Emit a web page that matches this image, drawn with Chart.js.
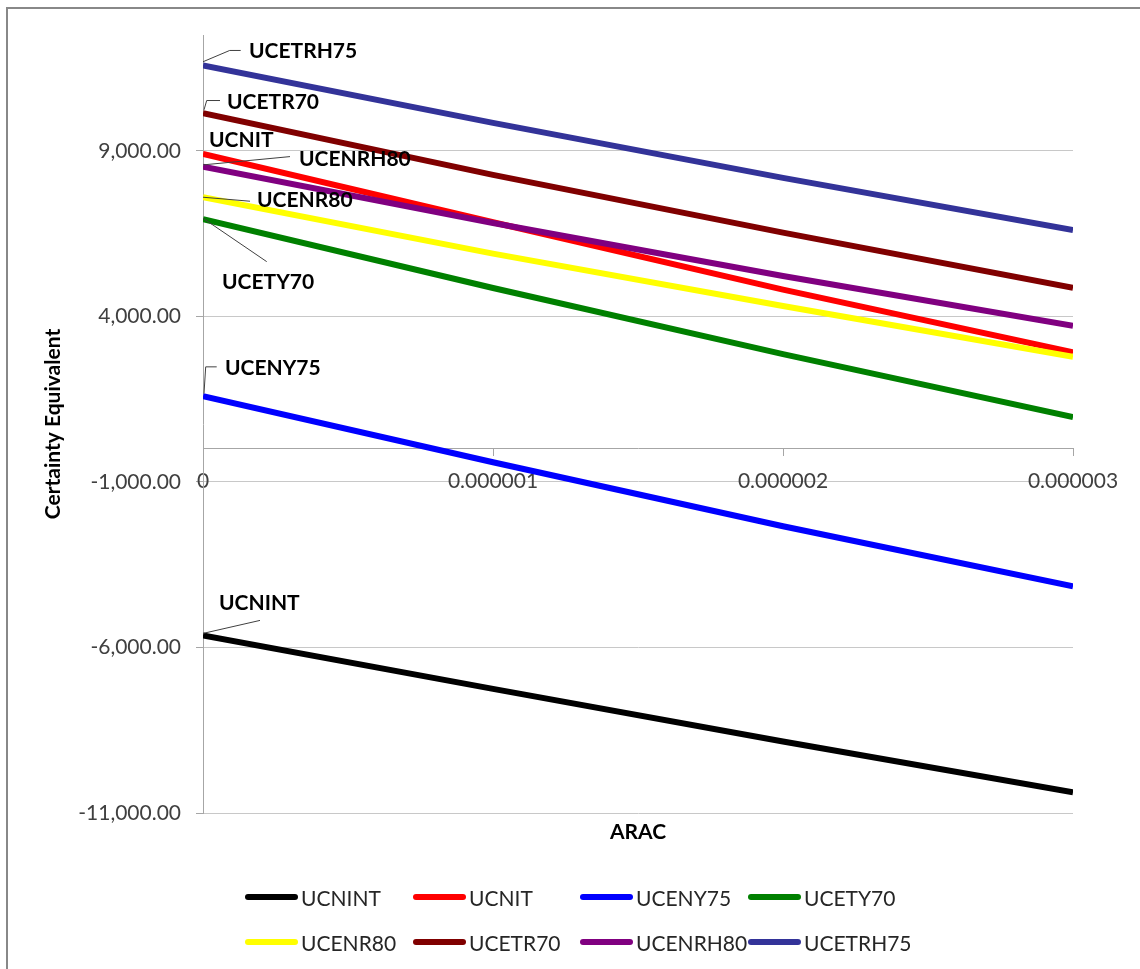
<!DOCTYPE html>
<html>
<head>
<meta charset="utf-8">
<script src="https://cdn.jsdelivr.net/npm/chart.js@4.4.1/dist/chart.umd.min.js"></script>
<style>
  html, body { margin: 0; padding: 0; background: #fff; overflow: hidden; }
  #wrap { position: relative; width: 1140px; height: 969px; overflow: hidden; }
  #frame { position: absolute; left: 6px; top: 7px; width: 1300px; height: 1200px;
           border: 2px solid #888; box-sizing: border-box; }
  #c { position: absolute; left: 0; top: 0; }
  #legend { position: absolute; left: 0; top: 0; width: 1140px; height: 969px; pointer-events: none; }
  .item { position: absolute; height: 26px; display: flex; align-items: center; }
  .sw { width: 53px; height: 6px; border-radius: 3px; flex: none; }
  .tx { font-family: Lato, "Open Sans", sans-serif; font-size: 21px; color: #262626;
        margin-left: 3px; white-space: nowrap; }
</style>
</head>
<body>
<div id="wrap">
  <div id="frame"></div>
  <canvas id="c" width="1140" height="969"></canvas>
  <div id="legend"></div>
</div>
<script>
// Certainty equivalent of each alternative against the absolute risk aversion coefficient
const seriesNames = ['UCNINT', 'UCNIT', 'UCENY75', 'UCETY70', 'UCENR80', 'UCETR70', 'UCENRH80', 'UCETRH75'];
const arac = [0, 0.000001, 0.000002, 0.000003];
const ucnint   = [-5636, -7250, -8840, -10373];
const ucnit    = [8910, 6843, 4807, 2912];
const uceny75  = [1591, -404, -2340, -4154];
const ucety70  = [6935, 4857, 2861, 956];
const ucenr80  = [7600, 5895, 4313, 2780];
const ucetr70  = [10140, 8274, 6530, 4867];
const ucenrh80 = [8525, 6823, 5220, 3718];
const ucetrh75 = [11580, 9847, 8184, 6611];
const seriesValues = [ucnint, ucnit, uceny75, ucety70, ucenr80, ucetr70, ucenrh80, ucetrh75];
const yTicks = [-11000, -6000, -1000, 4000, 9000];
const xTickLabels = ['0', '0.000001', '0.000002', '0.000003'];

const seriesColors = ['#000000', '#ff0000', '#0000ff', '#008000', '#ffff00', '#800000', '#800080', '#333399'];

// Callout placement for the name label at each series' first point (pixel offsets)
const callouts = {
  UCNINT:   { dx: 16, dy: -32,   leader: [[0, -2], [57, -15]] },
  UCNIT:    { dx: 6,  dy: -14,   leader: null },
  UCENY75:  { dx: 22, dy: -28,   leader: [[1, -2.7], [2.7, -29.3], [13.7, -29.3]] },
  UCETY70:  { dx: 19, dy: 63.4,  leader: [[0, -1], [63.7, 42.4]] },
  UCENR80:  { dx: 54, dy: 2.7,   leader: [[0, 0], [47, 4]] },
  UCETR70:  { dx: 24, dy: -10.6, leader: [[1, -3.3], [3.7, -12.6], [17, -12.6]] },
  UCENRH80: { dx: 96, dy: -7.7,  leader: [[0, -1.7], [87, -10]] },
  UCETRH75: { dx: 46, dy: -14,   leader: [[0, -3.7], [26.7, -15], [37.7, -15]] }
};

Chart.defaults.font.family = 'Lato, "Open Sans", sans-serif';

const datasets = seriesNames.map((name, i) => ({
  label: name,
  data: arac.map((x, k) => ({ x: x, y: seriesValues[i][k] })),
  borderColor: seriesColors[i],
  backgroundColor: seriesColors[i],
  borderWidth: 6,
  pointRadius: 0,
  tension: 0,
  fill: false,
  order: seriesNames.length - i
}));

const calloutPlugin = {
  id: 'callouts',
  afterDatasetsDraw(chart) {
    const ctx = chart.ctx;
    ctx.save();
    chart.data.datasets.forEach((ds, i) => {
      const p = chart.getDatasetMeta(i).data[0];
      const c = callouts[ds.label];
      if (!p || !c) return;
      if (c.leader) {
        ctx.beginPath();
        c.leader.forEach((pt, k) => {
          const x = p.x + pt[0], y = p.y + pt[1];
          if (k === 0) ctx.moveTo(x, y); else ctx.lineTo(x, y);
        });
        ctx.strokeStyle = '#404040';
        ctx.lineWidth = 1;
        ctx.stroke();
      }
      ctx.font = 'bold 21px Lato, "Open Sans", sans-serif';
      ctx.fillStyle = '#000';
      ctx.textAlign = 'left';
      ctx.textBaseline = 'middle';
      ctx.fillText(ds.label, p.x + c.dx, p.y + c.dy);
    });
    ctx.restore();
  },
  afterDraw(chart) {
    const ctx = chart.ctx, a = chart.chartArea;
    ctx.save();
    ctx.font = 'bold 21px Lato, "Open Sans", sans-serif';
    ctx.fillStyle = '#000';
    ctx.textAlign = 'center';
    ctx.textBaseline = 'middle';
    ctx.fillText('ARAC', (a.left + a.right) / 2, a.bottom + 19);
    ctx.restore();
  }
};

new Chart(document.getElementById('c'), {
  type: 'line',
  data: { datasets: datasets },
  plugins: [calloutPlugin],
  options: {
    responsive: false,
    animation: false,
    layout: { padding: { left: 0, top: 35, right: 67, bottom: 156 } },
    plugins: { legend: { display: false }, tooltip: { enabled: false } },
    scales: {
      x: {
        type: 'linear',
        position: { y: 0 },
        min: arac[0],
        max: arac[arac.length - 1],
        afterBuildTicks: s => { s.ticks = arac.map(v => ({ value: v })); },
        ticks: {
          callback: (v, i) => xTickLabels[i],
          color: '#404040',
          font: { size: 21 },
          padding: 13,
          maxRotation: 0,
          autoSkip: false
        },
        grid: { drawOnChartArea: false, drawTicks: true, tickLength: 7, tickColor: '#a6a6a6' },
        border: { color: '#a6a6a6', width: 1 }
      },
      y: {
        type: 'linear',
        position: 'left',
        min: -11000,
        max: 12500,
        afterBuildTicks: s => { s.ticks = yTicks.map(v => ({ value: v })); },
        afterFit: s => { s.width = 203; },
        ticks: {
          callback: v => Number(v).toLocaleString('en-US', { minimumFractionDigits: 2, maximumFractionDigits: 2 }),
          color: '#404040',
          font: { size: 21 },
          padding: 15
        },
        grid: { color: '#c8c8c8', lineWidth: 1, tickLength: 7, tickColor: '#a6a6a6' },
        border: { color: '#a6a6a6', width: 1 },
        title: {
          display: true,
          text: 'Certainty Equivalent',
          color: '#000',
          font: { size: 21, weight: 'bold' },
          padding: { top: 41, bottom: 0 }
        }
      }
    }
  }
});

// Legend: two rows of four, fixed column spacing
const legendCols = [245, 413, 580, 748];
const legendRows = [897, 942];
const legendEl = document.getElementById('legend');
seriesNames.forEach((name, i) => {
  const item = document.createElement('div');
  item.className = 'item';
  item.style.left = legendCols[i % 4] + 'px';
  item.style.top = (legendRows[Math.floor(i / 4)] - 13) + 'px';
  const sw = document.createElement('span');
  sw.className = 'sw';
  sw.style.background = seriesColors[i];
  const tx = document.createElement('span');
  tx.className = 'tx';
  tx.textContent = name;
  item.appendChild(sw);
  item.appendChild(tx);
  legendEl.appendChild(item);
});
</script>
</body>
</html>
